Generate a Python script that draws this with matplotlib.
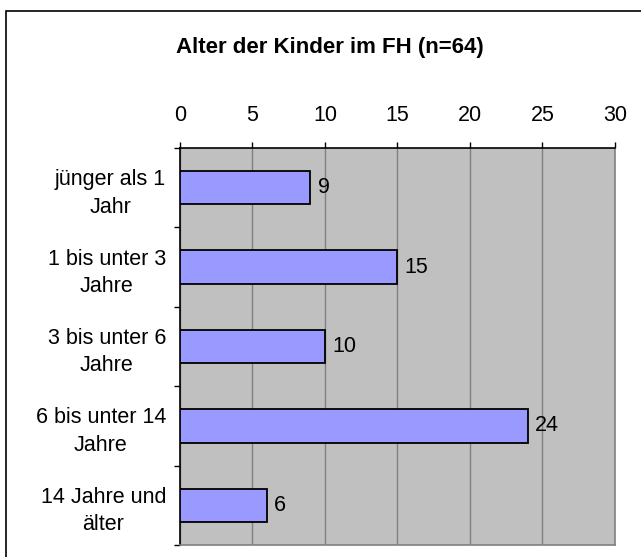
import matplotlib.pyplot as plt
import matplotlib.patches as patches
import numpy as np

plt.rcParams['font.family'] = ['Liberation Sans', 'DejaVu Sans']

kategorien = ["jünger als 1\nJahr", "1 bis unter 3\nJahre", "3 bis unter 6\nJahre",
              "6 bis unter 14\nJahre", "14 Jahre und\nälter"]
anzahl = [9, 15, 10, 24, 6]
x_ticks = [0, 5, 10, 15, 20, 25, 30]

fig = plt.figure(figsize=(6.41, 5.57), dpi=100)
ax = fig.add_axes([0.2808, 0.0215, 0.6786, 0.7128])

# outer frame of the chart (runs off right/bottom edge like the original)
fig.patches.append(patches.Rectangle((6 / 641, -0.05), 1.2, 1 - 11 / 557 + 0.05,
                                     transform=fig.transFigure, fill=False,
                                     edgecolor='black', linewidth=1.2))

y = np.arange(len(kategorien))
ax.set_facecolor('#C0C0C0')
ax.barh(y, anzahl, height=0.42, color='#9999FF', edgecolor='black', linewidth=1.3, zorder=3)

for yi, v in zip(y, anzahl):
    ax.text(v + 0.5, yi, str(v), va='center', ha='left', fontsize=15.5, zorder=4)

ax.set_xlim(0, 30)
ax.set_ylim(len(kategorien) - 0.5, -0.5)
ax.set_xticks(x_ticks)
ax.xaxis.tick_top()
ax.tick_params(axis='x', labelsize=15.5, length=4, width=1, direction='out', pad=12)
ax.grid(axis='x', color='#808080', linewidth=1, zorder=1)

ax.set_yticks(y)
ax.set_yticklabels(kategorien, multialignment='center', fontsize=15.5, linespacing=1.4)
ax.set_yticks(np.arange(-0.5, len(kategorien)), minor=True)
ax.tick_params(axis='y', which='major', length=0, pad=10)
ax.tick_params(axis='y', which='minor', length=4, width=1, direction='out')

ax.spines['top'].set_color('black')
ax.spines['left'].set_color('black')
ax.spines['right'].set_color('#808080')
ax.spines['bottom'].set_color('#808080')
for s in ax.spines.values():
    s.set_linewidth(1.2)

fig.text(330 / 641, 1 - 47 / 557, 'Alter der Kinder im FH (n=64)', ha='center', va='center',
         fontsize=16, fontweight='bold')

fig.savefig('out.png', dpi=100)
plt.close()
